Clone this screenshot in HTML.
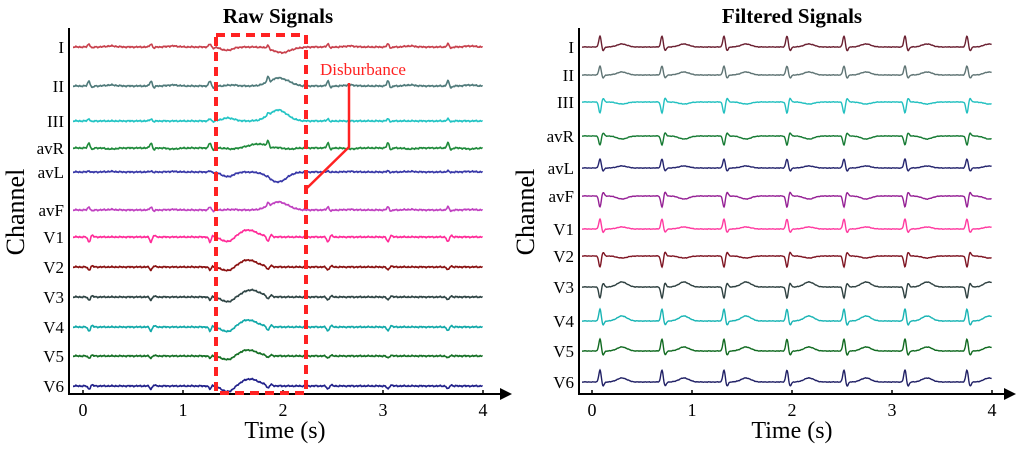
<!DOCTYPE html>
<html><head><meta charset="utf-8">
<style>
body{margin:0;background:#fff;}
svg{display:block;font-family:"Liberation Serif",serif;}
</style></head>
<body>
<svg id="fig" width="1024" height="451" viewBox="0 0 1024 451">
<text x="278" y="23" font-size="21" font-weight="bold" text-anchor="middle">Raw Signals</text>
<text x="792" y="23" font-size="21" font-weight="bold" text-anchor="middle">Filtered Signals</text>
<text transform="translate(24,212) rotate(-90)" font-size="26" text-anchor="middle">Channel</text>
<text transform="translate(534,212) rotate(-90)" font-size="26" text-anchor="middle">Channel</text>
<text x="285" y="438" font-size="24" text-anchor="middle">Time (s)</text>
<text x="792" y="438" font-size="24" text-anchor="middle">Time (s)</text>
<g id="raw"></g>
<g id="filt"></g>
<rect x="216" y="35" width="90" height="358" fill="none" stroke="#f22" stroke-width="4" stroke-dasharray="9,6"/>
<text x="320" y="75" font-size="17" fill="#f22">Disburbance</text>
<polyline points="349,83 349,147 306,189" fill="none" stroke="#f22" stroke-width="2.5"/>
</svg>
<script>
const channels=["I","II","III","avR","avL","avF","V1","V2","V3","V4","V5","V6"];
const rawBeats=[0.06,0.68,1.27,1.85,2.45,3.05,3.65];
const filtBeats=[0.08,0.7,1.32,1.95,2.52,3.13,3.75];
const rawQrs=[3,5,2,5,1,3,-5,-3,-3,-4,-2,-3];
const rawT=[1,1,0,-1,0.5,0.5,0,0,0,0,0,0];
const rawDistA=[-4,0,3,0,-5,0,-5,-4,-5,-5,-4,-6];
const rawDistB=[-6,8,11,4,-10,8,7,7,7,7,6,7];
const rawDistBTime=[2.0,1.95,1.95,1.75,1.95,1.95,1.65,1.65,1.68,1.65,1.65,1.67];
const filtQrs=[11,9,-11,-9,9,-11,10,-11,-11,12,12,12];
const filtT=[3,3,-2,-3,2,-3,2,-2,5,5,4,4];
const rawBase=[47,86,121,148,172,210,237,267,297,327,356,386];
const filtBase=[47,75,102,136,168,196,229,256,287,321,351,382];
const rawColors=["#c8404c","#4f7a7a","#22c4c4","#1e8a3a","#3838a8","#c040c0","#ff2a98","#8a1010","#2e4444","#10a8a8","#157025","#20208a"];
const filtColors=["#6a1f30","#5f7474","#22c0c0","#157a32","#25256e","#952095","#ff3aa0","#7e1422","#2e4040","#18b4b4","#106a20","#202065"];
const NS="http://www.w3.org/2000/svg";
function g(t,m,s){return Math.exp(-((t-m)*(t-m))/(2*s*s));}
function sig(t,beats,q,tw,dA,dB,dBt,noise){
  let v=0;
  for(const b of beats){v+=q*g(t,b,0.012)-0.35*q*g(t,b+0.03,0.012)+tw*g(t,b+0.22,0.05);}
  v+=dA*g(t,1.45,0.06)+dB*g(t,dBt,0.09);
  v+=noise*(0.6*Math.sin(t*157)+0.5*Math.sin(t*331)+0.3*Math.sin(t*71));
  return v;
}
function panel(id,x0,axisX,axisEnd,bases,beats,qrs,tws,colors,dA,dB,dBt,noise,sw){
  const G=document.getElementById(id);
  const xs=t=>x0+t*100;
  channels.forEach((c,i)=>{
    const lab=document.createElementNS(NS,"text");
    lab.setAttribute("x",axisX-5);lab.setAttribute("y",bases[i]+6);
    lab.setAttribute("font-size","17");lab.setAttribute("text-anchor","end");
    lab.textContent=c;
    
    
    G.appendChild(lab);
    let pts=[];
    for(let t=-0.1;t<=4.0;t+=0.004){pts.push(xs(t).toFixed(1)+","+(bases[i]-sig(t,beats,qrs[i],tws[i],dA?dA[i]:0,dB?dB[i]:0,dBt?dBt[i]:0,noise)).toFixed(1));}
    const pl=document.createElementNS(NS,"polyline");
    pl.setAttribute("points",pts.join(" "));pl.setAttribute("fill","none");
    pl.setAttribute("stroke",colors[i]);pl.setAttribute("stroke-width",sw);
    
    
    G.appendChild(pl);
  });
  const ax=document.createElementNS(NS,"path");
  ax.setAttribute("d",`M${axisX} 28 V394 H${axisEnd}`);ax.setAttribute("fill","none");
  ax.setAttribute("stroke","#000");ax.setAttribute("stroke-width","2");
  
  
  G.appendChild(ax);
  const ar=document.createElementNS(NS,"path");
  ar.setAttribute("d",`M${axisEnd} 388 L${axisEnd+12} 394 L${axisEnd} 400 Z`);
  
  
  G.appendChild(ar);
  [0,1,2,3,4].forEach(k=>{
    const tk=document.createElementNS(NS,"line");
    tk.setAttribute("x1",xs(k));tk.setAttribute("x2",xs(k));tk.setAttribute("y1",394);tk.setAttribute("y2",390);
    tk.setAttribute("stroke","#000");tk.setAttribute("stroke-width","1.5");
    
    
    G.appendChild(tk);
    const tl=document.createElementNS(NS,"text");
    tl.setAttribute("x",xs(k));tl.setAttribute("y",416);tl.setAttribute("font-size","18");tl.setAttribute("text-anchor","middle");
    tl.textContent=k;
    
    
    G.appendChild(tl);
  });
}
panel("raw",83,69,500,rawBase,rawBeats,rawQrs,rawT,rawColors,rawDistA,rawDistB,rawDistBTime,0.6,"1.6");
panel("filt",592,579,1004,filtBase,filtBeats,filtQrs,filtT,filtColors,null,null,null,0.25,"1.4");
</script>
</body></html>
